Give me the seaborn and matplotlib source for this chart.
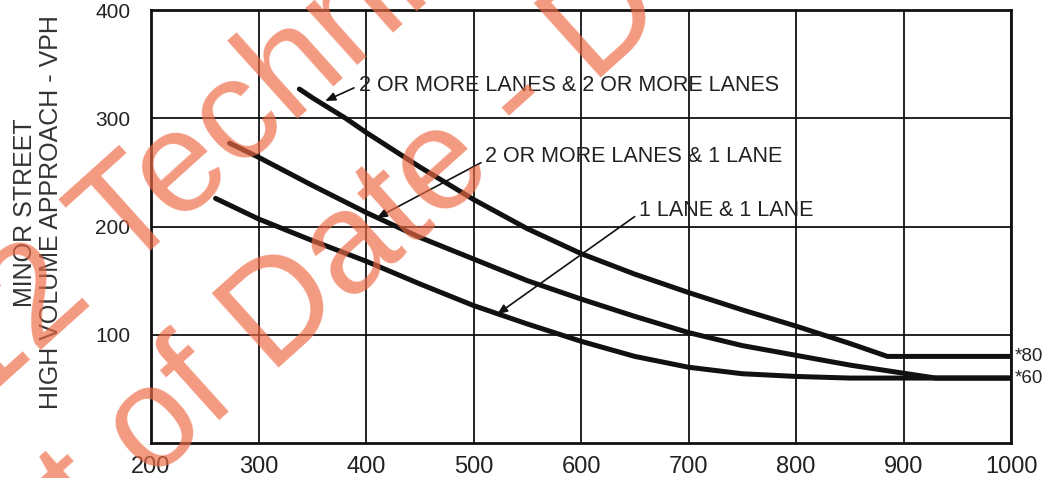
import matplotlib
matplotlib.use("Agg")
import matplotlib.pyplot as plt
import pandas as pd
import seaborn as sns

# ---- data ----
curve_names = ["2 OR MORE LANES & 2 OR MORE LANES",
               "2 OR MORE LANES & 1 LANE",
               "1 LANE & 1 LANE"]

major_22 = [338, 350, 381, 400, 450, 500, 550, 600, 650, 700, 750, 800, 850, 885, 1000]
minor_22 = [327, 319, 300, 287, 255, 225, 198, 175, 156, 139, 123, 108, 92, 80, 80]

major_21 = [273, 300, 350, 400, 450, 500, 550, 600, 650, 700, 750, 800, 850, 900, 930, 1000]
minor_21 = [277, 264, 238, 213, 190, 170, 150, 133, 117, 102, 90, 81, 72, 64.5, 60, 60]

major_11 = [260, 300, 350, 400, 450, 500, 550, 600, 650, 700, 750, 800, 850, 1000]
minor_11 = [226, 207, 187, 168, 147, 127, 110, 94, 80, 70, 64, 61.5, 60, 60]

x_ticks = [200, 300, 400, 500, 600, 700, 800, 900, 1000]
y_ticks = [100, 200, 300, 400]
threshold_labels = ["*80", "*60"]
threshold_values = [80, 60]

y_label_lines = ["MINOR STREET", "HIGH VOLUME APPROACH - VPH"]
watermark_lines = ["12 Technical", "Out of Date - D"]

df = pd.concat([
    pd.DataFrame({"major": major_22, "minor": minor_22, "curve": curve_names[0]}),
    pd.DataFrame({"major": major_21, "minor": minor_21, "curve": curve_names[1]}),
    pd.DataFrame({"major": major_11, "minor": minor_11, "curve": curve_names[2]}),
], ignore_index=True)

sns.set_theme(style="white")
plt.rcParams["font.family"] = ["Liberation Sans", "DejaVu Sans"]

fig = plt.figure(figsize=(10.6, 4.78), dpi=100)
ax = fig.add_axes([0.1425, 0.0732, 0.8113, 0.9058])

sns.lineplot(data=df, x="major", y="minor", hue="curve", sort=False,
             estimator=None, palette={c: "#111111" for c in curve_names},
             linewidth=3.6, legend=False, ax=ax, zorder=3)

ax.set_xlim(200, 1000)
ax.set_ylim(0, 400)
ax.set_xticks(x_ticks)
ax.set_xticklabels([str(v) for v in x_ticks])
ax.set_yticks(y_ticks)
ax.set_yticklabels([str(v) for v in y_ticks])
ax.set_xlabel("")
ax.set_ylabel("")
ax.tick_params(axis="both", length=0, colors="#222222")
ax.tick_params(axis="x", labelsize=17, pad=9)
ax.tick_params(axis="y", labelsize=15, pad=15)
ax.grid(True, color="#111111", linewidth=1.3)
ax.set_axisbelow(True)
for s in ax.spines.values():
    s.set_visible(True)
    s.set_color("#111111")
    s.set_linewidth(2)

# y-axis title (two lines)
fig.text(25 / 1060, 0.556, y_label_lines[0], rotation=90, ha="center", va="center",
         fontsize=18, color="#333333")
fig.text(51 / 1060, 0.556, y_label_lines[1], rotation=90, ha="center", va="center",
         fontsize=18, color="#333333")

# curve annotations with leaders
arrow_kw = dict(arrowstyle="-|>,head_length=0.6,head_width=0.25", color="#111111",
                lw=1.2, shrinkA=1, shrinkB=0, mutation_scale=10)
ax.annotate(curve_names[0], xy=(362, 316), xytext=(393, 330), ha="left", va="center",
            fontsize=15.5, color="#222222",
            arrowprops=dict(relpos=(0, 0.5), **arrow_kw), zorder=5)
ax.annotate(curve_names[1], xy=(410, 208), xytext=(511, 265), ha="left", va="center",
            fontsize=15.5, color="#222222",
            arrowprops=dict(relpos=(0, 0.3), **arrow_kw), zorder=5)
ax.annotate(curve_names[2], xy=(522, 119), xytext=(654, 215), ha="left", va="center",
            fontsize=15.5, color="#222222",
            arrowprops=dict(relpos=(0, 0.35), **arrow_kw), zorder=5)

for lab, val in zip(threshold_labels, threshold_values):
    ax.text(1003, val, lab, ha="left", va="center", fontsize=13.5, color="#222222",
            clip_on=False)

# watermark
fig.text(-0.0226, 0.1464, watermark_lines[0], rotation=42, rotation_mode="anchor",
         ha="left", va="baseline", fontsize=104, color="#EE6A45", alpha=0.68, zorder=10)
fig.text(-0.049, -0.391, watermark_lines[1], rotation=42, rotation_mode="anchor",
         ha="left", va="baseline", fontsize=104, color="#EE6A45", alpha=0.68, zorder=10)

fig.savefig("out.png", dpi=100)
